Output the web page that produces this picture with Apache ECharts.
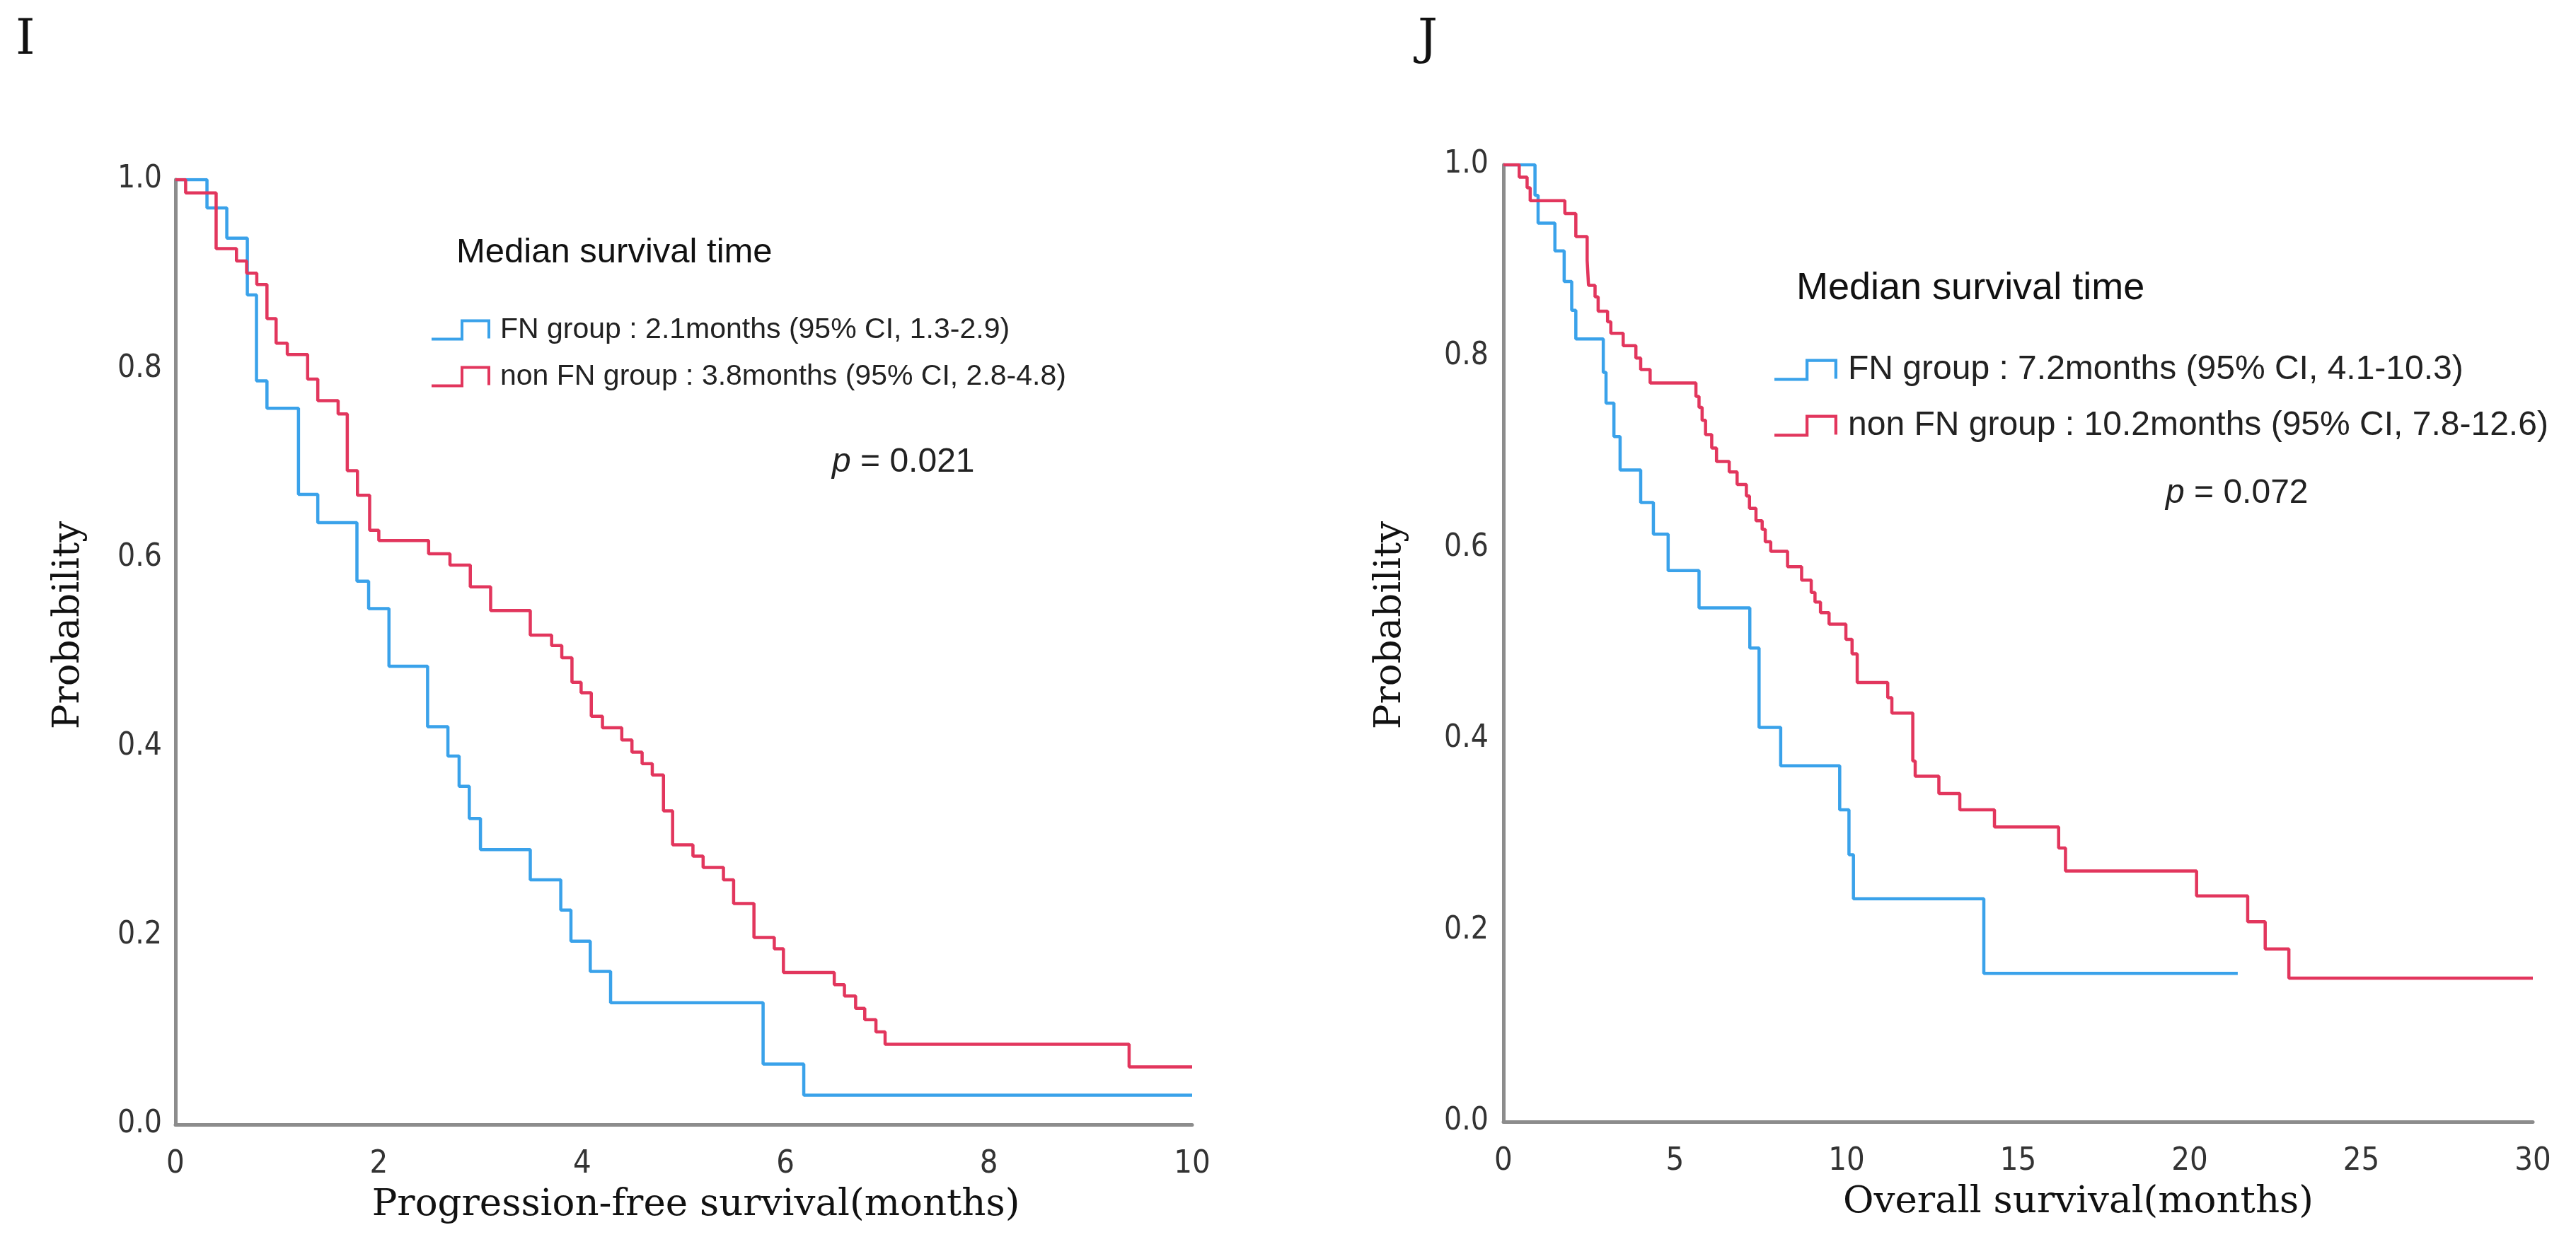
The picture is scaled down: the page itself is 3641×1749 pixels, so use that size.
<!DOCTYPE html>
<html>
<head>
<meta charset="utf-8">
<script src="https://cdn.jsdelivr.net/npm/echarts@6/dist/echarts.min.js"></script>
<style>
html,body{margin:0;padding:0;background:#fff;}
#chart{width:3641px;height:1749px;}
</style>
</head>
<body>
<div id="chart"></div>
<script>
// ---------- Data ----------
// Panel I: Progression-free survival
var pfsFnTime  = [0, 0.31, 0.505, 0.707, 0.797, 0.90, 1.21, 1.40, 1.785, 1.90, 2.10, 2.48, 2.68, 2.79, 2.89, 3.00, 3.49, 3.79, 3.89, 4.08, 4.28, 5.78, 6.18, 10];
var pfsFnSurv  = [1.0, 0.970, 0.938, 0.878, 0.787, 0.758, 0.667, 0.637, 0.575, 0.546, 0.485, 0.421, 0.390, 0.358, 0.324, 0.291, 0.259, 0.227, 0.194, 0.162, 0.129, 0.064, 0.031, 0.031];
var pfsNonTime = [0, 0.10, 0.40, 0.60, 0.70, 0.80, 0.90, 0.99, 1.10, 1.30, 1.40, 1.60, 1.69, 1.79, 1.91, 2.00, 2.49, 2.70, 2.90, 3.10, 3.49, 3.70, 3.80, 3.90, 3.99, 4.09, 4.20, 4.39, 4.49, 4.59, 4.69, 4.80, 4.89, 5.09, 5.19, 5.39, 5.49, 5.69, 5.89, 5.98, 6.48, 6.58, 6.69, 6.78, 6.89, 6.98, 9.38, 10];
var pfsNonSurv = [1.0, 0.986, 0.927, 0.914, 0.901, 0.889, 0.853, 0.827, 0.815, 0.789, 0.766, 0.752, 0.692, 0.666, 0.629, 0.618, 0.604, 0.592, 0.569, 0.544, 0.518, 0.507, 0.494, 0.468, 0.457, 0.432, 0.420, 0.407, 0.394, 0.382, 0.370, 0.332, 0.296, 0.284, 0.272, 0.259, 0.234, 0.198, 0.186, 0.161, 0.148, 0.136, 0.123, 0.111, 0.098, 0.085, 0.061, 0.061];

// Panel J: Overall survival
var osFnTime  = [0, 0.92, 1.01, 1.50, 1.77, 1.99, 2.11, 2.91, 2.99, 3.22, 3.40, 4.00, 4.37, 4.80, 5.70, 7.18, 7.45, 8.08, 9.80, 10.07, 10.20, 14.00, 21.4];
var osFnSurv  = [1.0, 0.968, 0.939, 0.910, 0.878, 0.848, 0.818, 0.783, 0.751, 0.716, 0.681, 0.647, 0.614, 0.576, 0.537, 0.495, 0.412, 0.372, 0.326, 0.279, 0.233, 0.155, 0.155];
var osNonTime = [0, 0.46, 0.69, 0.78, 1.79, 2.11, 2.44, 2.48, 2.67, 2.76, 3.035, 3.13, 3.49, 3.86, 4.00, 4.275, 5.61, 5.70, 5.79, 5.89, 6.07, 6.21, 6.58, 6.81, 7.08, 7.17, 7.36, 7.54, 7.63, 7.79, 8.28, 8.69, 8.97, 9.08, 9.24, 9.49, 9.98, 10.16, 10.31, 11.2, 11.32, 11.93, 12.0, 12.69, 13.30, 14.31, 16.18, 16.38, 20.2, 21.69, 22.2, 22.89, 30];
var osNonSurv = [1.0, 0.987, 0.976, 0.9625, 0.949, 0.925, 0.900, 0.874, 0.862, 0.847, 0.836, 0.824, 0.811, 0.798, 0.786, 0.772, 0.758, 0.7465, 0.733, 0.718, 0.704, 0.690, 0.679, 0.666, 0.654, 0.641, 0.628, 0.619, 0.606, 0.596, 0.580, 0.566, 0.553, 0.543, 0.532, 0.520, 0.504, 0.489, 0.459, 0.443, 0.427, 0.377, 0.361, 0.343, 0.326, 0.308, 0.286, 0.262, 0.236, 0.209, 0.1805, 0.150, 0.150];

// Series names (legend texts)
var pfsNames = ['FN group : 2.1months (95% CI, 1.3-2.9)', 'non FN group : 3.8months (95% CI, 2.8-4.8)'];
var osNames  = ['FN group : 7.2months (95% CI, 4.1-10.3)', 'non FN group : 10.2months (95% CI, 7.8-12.6)'];

// Tick labels
var yTickLabels = ['0.0', '0.2', '0.4', '0.6', '0.8', '1.0'];
var pfsXTicks = [0, 2, 4, 6, 8, 10];
var osXTicks  = [0, 5, 10, 15, 20, 25, 30];

// Texts
var panelLabels = ['I', 'J'];
var medianTitle = 'Median survival time';
var pValues = ['0.021', '0.072'];
var xTitles = ['Progression-free survival(months)', 'Overall survival(months)'];
var yTitle = 'Probability';

// ---------- Build ----------
function zip(t, s) { return t.map(function (v, i) { return [v, s[i]]; }); }

var BLUE = '#3aa2ea';
var RED = '#e2365d';
var AXIS = '#8c8c8c';
var TICK_FONT = "'Liberation Sans Narrow', 'DejaVu Sans Condensed', 'Liberation Sans', sans-serif";
var SERIF = "'DejaVu Serif', serif";
var SANS = "'Liberation Sans', Arial, sans-serif";

var stepIcon = 'path://M0,30 L45,30 L45,4 L79,4 L79,27 L83,27 L83,0 L41,0 L41,26 L0,26 Z';

function yAxisCfg(grid, gap, shift, margin) {
  return {
    gridIndex: grid, type: 'value', min: 0, max: 1, interval: 0.2,
    name: yTitle, nameLocation: 'middle', nameGap: gap,
    nameTextStyle: { fontFamily: SERIF, fontSize: 53, color: '#111', padding: [0, 0, 0, shift] },
    axisLine: { show: true, lineStyle: { color: AXIS, width: 5 } },
    axisTick: { show: false }, splitLine: { show: false },
    axisLabel: {
      margin: margin, fontFamily: TICK_FONT, fontSize: 44, color: '#333',
      formatter: function (v) { return yTickLabels[Math.round(v / 0.2)]; }
    }
  };
}
function xAxisCfg(grid, ticks, title, shift) {
  return {
    gridIndex: grid, type: 'value', min: ticks[0], max: ticks[ticks.length - 1],
    interval: ticks[1] - ticks[0],
    name: title, nameLocation: 'middle', nameGap: 88,
    nameTextStyle: { fontFamily: SERIF, fontSize: 53, color: '#111', padding: [0, 0, 0, shift] },
    axisLine: { show: true, onZero: false, lineStyle: { color: AXIS, width: 5 } },
    axisTick: { show: false }, splitLine: { show: false },
    axisLabel: { margin: 34, fontFamily: TICK_FONT, fontSize: 45, color: '#333',
      formatter: function (v) { return String(v); } }
  };
}
function stepSeries(name, xi, data, color) {
  return {
    name: name, type: 'line', step: 'end', xAxisIndex: xi, yAxisIndex: xi,
    data: data, showSymbol: false, symbol: 'none', animation: false,
    lineStyle: { color: color, width: 4.5 }, itemStyle: { color: color },
    emphasis: { disabled: true }
  };
}
function legendCfg(names, left, top, w, h, gap, textPad, fs) {
  return {
    data: names, orient: 'vertical', left: left, top: top, padding: 0,
    itemWidth: w, itemHeight: h, itemGap: gap, selectedMode: false,
    icon: stepIcon, symbolKeepAspect: false,
    itemStyle: { borderWidth: 0 },
    textStyle: { fontFamily: SANS, fontSize: fs, lineHeight: fs, color: '#222', padding: [0, 0, 0, textPad] }
  };
}
function pText(x, y, val) {
  return {
    type: 'text', x: x, y: y,
    style: {
      text: '{i|p}{n| = ' + val + '}', align: 'left', verticalAlign: 'middle',
      rich: {
        i: { fontFamily: SANS, fontSize: 48, fontStyle: 'italic', fill: '#222' },
        n: { fontFamily: SANS, fontSize: 48, fill: '#222' }
      }
    }
  };
}
function plainText(x, y, txt, family, size, color) {
  return {
    type: 'text', x: x, y: y,
    style: { text: txt, fontFamily: family, fontSize: size, fill: color, align: 'left', verticalAlign: 'middle' }
  };
}

var chart = echarts.init(document.getElementById('chart'), null, { renderer: 'canvas' });
chart.setOption({
  backgroundColor: '#ffffff',
  animation: false,
  grid: [
    { left: 248, top: 254, width: 1437, height: 1336 },
    { left: 2125, top: 233, width: 1455, height: 1353 }
  ],
  xAxis: [
    xAxisCfg(0, pfsXTicks, xTitles[0], 34),
    xAxisCfg(1, osXTicks, xTitles[1], 170)
  ],
  yAxis: [
    yAxisCfg(0, 124, 76, 19),
    yAxisCfg(1, 133, 51, 21)
  ],
  legend: [
    legendCfg(pfsNames, 610, 446, 83, 30, 25, 9, 41),
    legendCfg(osNames, 2508, 499, 89, 31, 31, 10, 48)
  ],
  series: [
    stepSeries(pfsNames[0], 0, zip(pfsFnTime, pfsFnSurv), BLUE),
    stepSeries(pfsNames[1], 0, zip(pfsNonTime, pfsNonSurv), RED),
    stepSeries(osNames[0], 1, zip(osFnTime, osFnSurv), BLUE),
    stepSeries(osNames[1], 1, zip(osNonTime, osNonSurv), RED)
  ],
  graphic: [
    plainText(22, 58, panelLabels[0], SERIF, 70, '#111'),
    plainText(2004, 58, panelLabels[1], SERIF, 70, '#111'),
    plainText(645, 357, medianTitle, SANS, 49, '#111'),
    plainText(2539, 408, medianTitle, SANS, 54, '#111'),
    pText(1176, 654, pValues[0]),
    pText(3061, 698, pValues[1])
  ]
});
</script>
</body>
</html>
